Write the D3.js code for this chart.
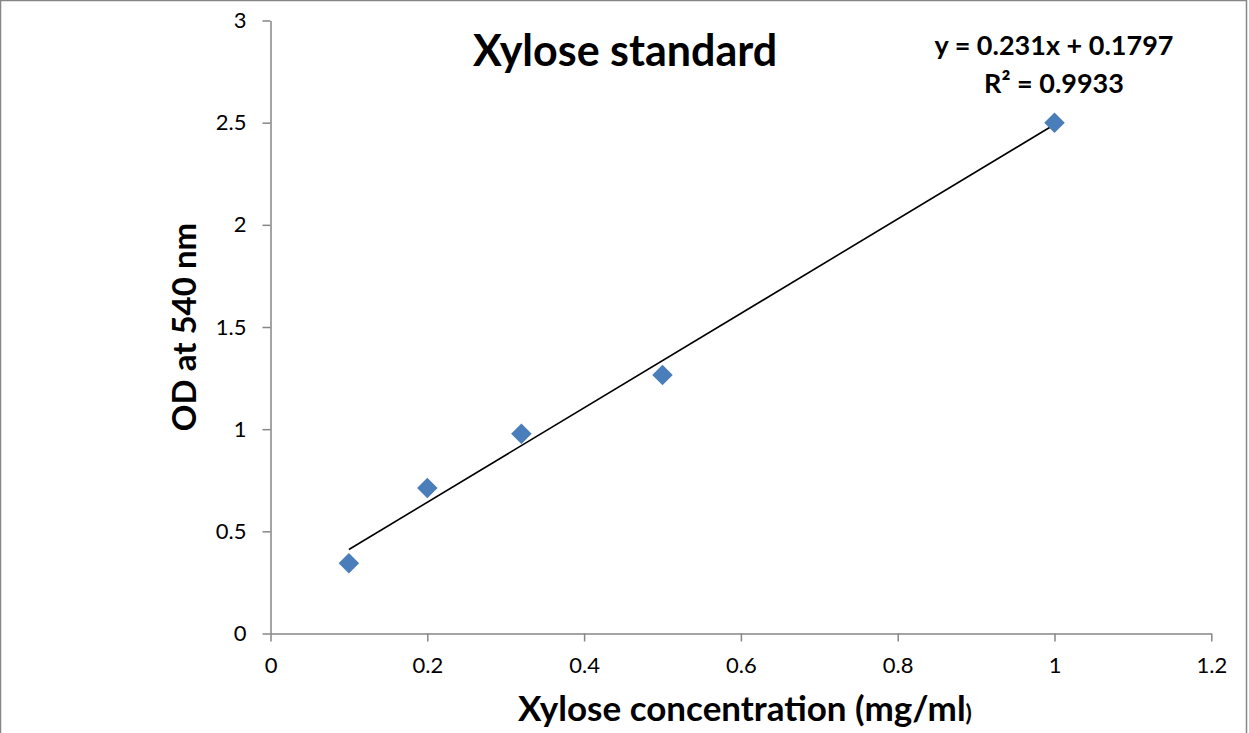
<!DOCTYPE html>
<html>
<head>
<meta charset="utf-8">
<script src="https://cdn.jsdelivr.net/npm/d3@7"></script>
<style>
  html, body { margin: 0; padding: 0; background: #fff; }
  svg { display: block; }
</style>
</head>
<body>
<svg id="chart" width="1249" height="733"></svg>
<script>
// Xylose standard curve: concentration (mg/ml) vs OD at 540 nm
const concentration = [0.1, 0.2, 0.32, 0.5, 1.0];
const absorbance = [0.344, 0.712, 0.978, 1.265, 2.5];
const xTicks = [0, 0.2, 0.4, 0.6, 0.8, 1, 1.2];
const yTicks = [0, 0.5, 1, 1.5, 2, 2.5, 3];
const equationLines = ["y = 0.231x + 0.1797", "R\u00B2 = 0.9933"];

const W = 1249, H = 733;
const font = "Lato, 'Open Sans', 'Liberation Sans', sans-serif";
const axisColor = "#868686";
const markerColor = "#4a7ebb";

const svg = d3.select("#chart");

// outer chart frame
svg.append("rect")
  .attr("x", 0.5).attr("y", 0.5)
  .attr("width", W - 3).attr("height", H + 4)
  .attr("fill", "#fff").attr("stroke", axisColor).attr("stroke-width", 1.5);

const x = d3.scaleLinear().domain([0, 1.2]).range([270.5, 1211.3]);
const y = d3.scaleLinear().domain([0, 3]).range([633.5, 20.5]);

// y axis
const yAxis = svg.append("g")
  .attr("transform", `translate(${x(0)},0)`)
  .call(d3.axisLeft(y).tickValues(yTicks).tickFormat(d3.format("")).tickSize(8).tickSizeOuter(0).tickPadding(16));
// x axis
const xAxis = svg.append("g")
  .attr("transform", `translate(0,${y(0)})`)
  .call(d3.axisBottom(x).tickValues(xTicks).tickFormat(d3.format("")).tickSize(8).tickSizeOuter(0).tickPadding(16));

[xAxis, yAxis].forEach(g => {
  g.select(".domain").attr("stroke", axisColor).attr("stroke-width", 1.5);
  g.selectAll(".tick line").attr("stroke", axisColor).attr("stroke-width", 1.5);
  g.selectAll(".tick text")
    .attr("fill", "#000")
    .style("font-family", font)
    .style("font-size", "22px");
});

// least-squares trendline across the data range
const n = concentration.length;
const mx = d3.mean(concentration), my = d3.mean(absorbance);
let sxy = 0, sxx = 0;
for (let i = 0; i < n; i++) {
  sxy += (concentration[i] - mx) * (absorbance[i] - my);
  sxx += (concentration[i] - mx) ** 2;
}
const slope = sxy / sxx;
const intercept = my - slope * mx;
const xMin = d3.min(concentration), xMax = d3.max(concentration);
svg.append("line")
  .attr("x1", x(xMin)).attr("y1", y(slope * xMin + intercept))
  .attr("x2", x(xMax)).attr("y2", y(slope * xMax + intercept))
  .attr("stroke", "#000").attr("stroke-width", 1.6);

// diamond markers
const diamond = d3.symbol().type(d3.symbolSquare).size(210);
svg.append("g").selectAll("path")
  .data(concentration.map((c, i) => [c, absorbance[i]]))
  .join("path")
  .attr("d", diamond)
  .attr("transform", d => `translate(${x(d[0])},${y(d[1])}) rotate(45)`)
  .attr("fill", markerColor);

// title
svg.append("text")
  .attr("x", 625).attr("y", 66)
  .attr("text-anchor", "middle")
  .style("font-family", font).style("font-weight", "bold").style("font-size", "43px")
  .text("Xylose standard");

// regression equation
svg.append("g").selectAll("text")
  .data(equationLines)
  .join("text")
  .attr("x", 1054).attr("y", (d, i) => 55 + i * 38)
  .attr("text-anchor", "middle")
  .style("font-family", font).style("font-weight", "bold").style("font-size", "27px")
  .text(d => d);

// axis titles
const xt = svg.append("text")
  .attr("x", 745).attr("y", 721)
  .attr("text-anchor", "middle")
  .style("font-family", font).style("font-weight", "bold").style("font-size", "35px");
xt.append("tspan").text("Xylose concentration (mg/ml");
xt.append("tspan").style("font-size", "23px").text(")");

svg.append("text")
  .attr("transform", "translate(196,327) rotate(-90)")
  .attr("text-anchor", "middle")
  .style("font-family", font).style("font-weight", "bold").style("font-size", "33px")
  .text("OD at 540 nm");
</script>
</body>
</html>
